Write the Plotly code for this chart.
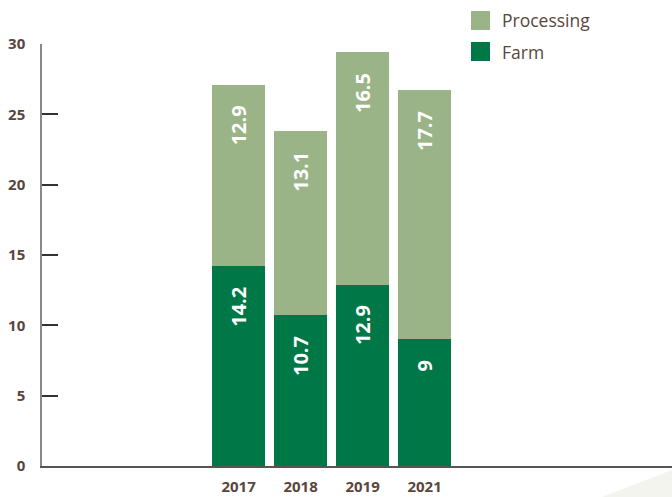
import plotly.graph_objects as go

years = ["2017", "2018", "2019", "2021"]
farm = [14.2, 10.7, 12.9, 9]
processing = [12.9, 13.1, 16.5, 17.7]
y_ticks = [0, 5, 10, 15, 20, 25, 30]

FARM_C = "#007746"
PROC_C = "#9ab488"
BROWN = "#5a463d"
FONT = "Open Sans"

W, H = 672, 497
ML, MR, MT, MB = 42, 0, 44, 31


def px(x, y):
    return (x - ML) / (W - ML - MR), (H - MB - y) / (H - MT - MB)


fig = go.Figure()
fig.add_bar(x=years, y=farm, name="Farm", marker=dict(color=FARM_C, line=dict(width=0)))
fig.add_bar(x=years, y=processing, name="Processing", marker=dict(color=PROC_C, line=dict(width=0)))

annotations = []
for i, yr in enumerate(years):
    tops = [farm[i], farm[i] + processing[i]]
    vals = [farm[i], processing[i]]
    for top, v in zip(tops, vals):
        annotations.append(dict(
            x=i, y=top, xref="x", yref="y", text=f"{v:g}", showarrow=False,
            textangle=-90, yanchor="top", xanchor="center", yshift=-19,
            font=dict(family=FONT, size=20, color="white", weight="bold"),
        ))

# legend drawn manually
shapes = []
for label, color, ytop in [("Processing", PROC_C, 11), ("Farm", FARM_C, 42)]:
    x0, y0 = px(471, ytop + 19)
    x1, y1 = px(490, ytop)
    shapes.append(dict(type="rect", xref="paper", yref="paper", x0=x0, x1=x1, y0=y0, y1=y1,
                       fillcolor=color, line=dict(width=0)))
    tx, ty = px(500, ytop + 9.5)
    annotations.append(dict(x=tx, y=ty, xref="paper", yref="paper", text=label, showarrow=False,
                            xanchor="left", yanchor="middle",
                            font=dict(family=FONT, size=17.5, color=BROWN)))

# faint decorative wedge bottom right
a = px(602, 497)
b = px(672, 470)
c = px(672, 497)
shapes.append(dict(type="path", xref="paper", yref="paper",
                   path=f"M {a[0]} {a[1]} L {b[0]} {b[1]} L {c[0]} {c[1]} Z",
                   fillcolor="#f4f4ee", line=dict(width=0), layer="below"))

fig.update_layout(
    width=W, height=H, barmode="stack", bargap=0.145,
    margin=dict(l=ML, r=MR, t=MT, b=MB),
    plot_bgcolor="white", paper_bgcolor="white",
    showlegend=False,
    annotations=annotations, shapes=shapes,
    xaxis=dict(type="category", range=[-3.17, 6.99], showgrid=False, zeroline=False,
               showline=True, linecolor="#555555", linewidth=2, ticks="",
               ticklabelstandoff=6, automargin=False,
               tickfont=dict(family=FONT, size=15, color=BROWN, weight="bold")),
    yaxis=dict(range=[0, 30], tickvals=y_ticks, showgrid=False, zeroline=False,
               showline=True, linecolor="#888888", linewidth=1.5,
               ticks="inside", ticklen=16, tickwidth=1.5, tickcolor="#333333",
               ticklabelstandoff=12, automargin=False,
               tickfont=dict(family=FONT, size=15, color=BROWN, weight="bold")),
)

fig.write_html("out.html", config={"displayModeBar": False},
               post_script="document.body.style.margin='0';document.body.style.overflow='hidden';")
